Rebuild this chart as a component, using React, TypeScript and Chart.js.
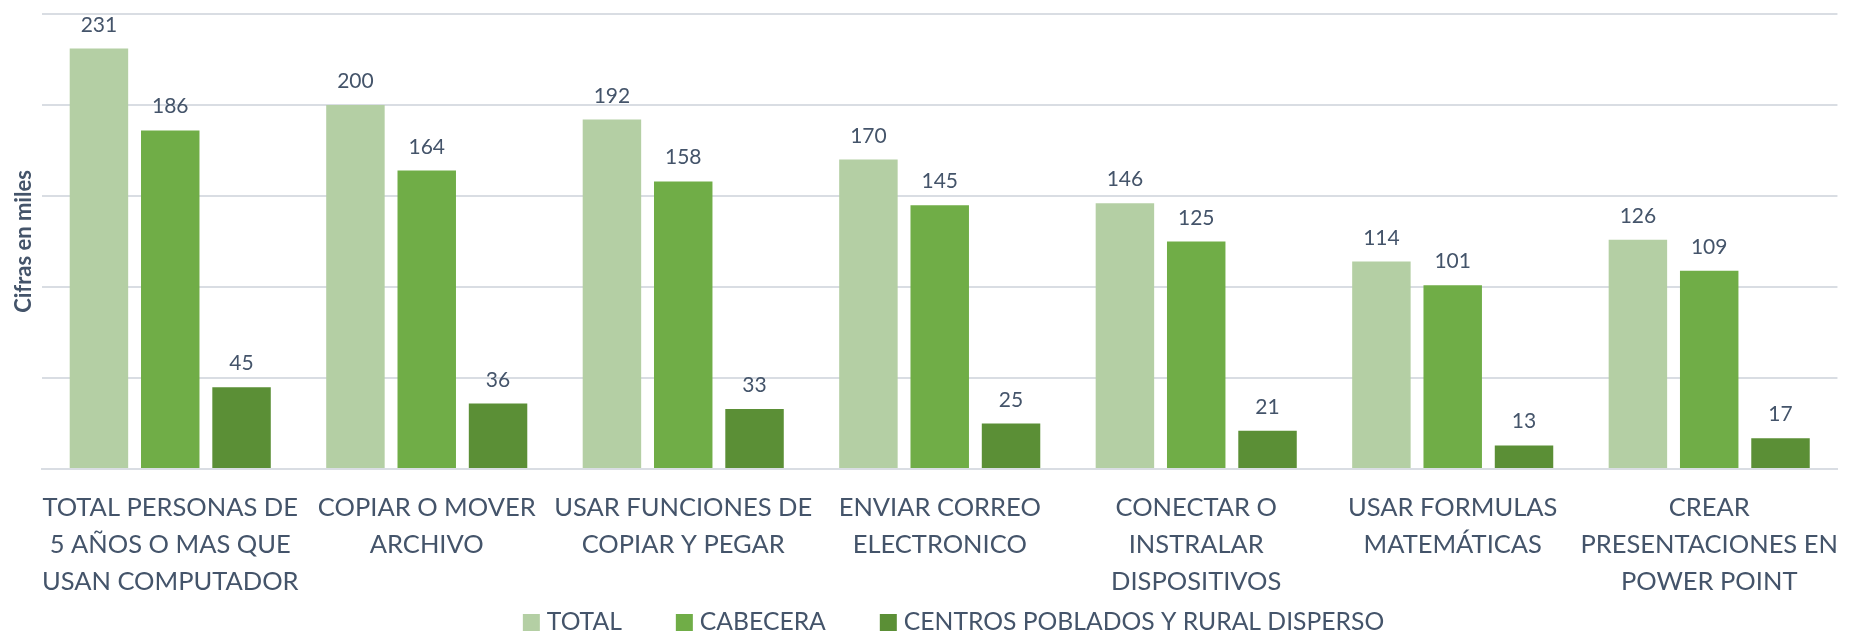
import React, { useEffect, useRef } from "react";
import { Chart, registerables } from "chart.js";
Chart.register(...registerables);

const categories: string[][] = [
  ["TOTAL PERSONAS DE", "5 AÑOS O MAS QUE", "USAN COMPUTADOR"],
  ["COPIAR O MOVER", "ARCHIVO"],
  ["USAR FUNCIONES DE", "COPIAR Y PEGAR"],
  ["ENVIAR CORREO", "ELECTRONICO"],
  ["CONECTAR O", "INSTRALAR", "DISPOSITIVOS"],
  ["USAR FORMULAS", "MATEMÁTICAS"],
  ["CREAR", "PRESENTACIONES EN", "POWER POINT"],
];
const seriesNames = ["TOTAL", "CABECERA", "CENTROS POBLADOS Y RURAL DISPERSO"];
const totalValues = [231, 200, 192, 170, 146, 114, 126];
const cabeceraValues = [186, 164, 158, 145, 125, 101, 109];
const ruralValues = [45, 36, 33, 25, 21, 13, 17];
const seriesColors = ["#B4CFA4", "#70AD47", "#5B8F36"];
const yAxisTitle = "Cifras en miles";
const yMin = 0;
const yMax = 250;
const yStep = 50;

const TEXT = "#44546A";
const GRID = "#D9DDE3";
const FONT = "Lato, 'Open Sans', sans-serif";

const dataLabelPlugin = {
  id: "dataLabels",
  afterDatasetsDraw(chart: any) {
    const ctx = chart.ctx;
    ctx.save();
    ctx.font = `21px ${FONT}`;
    ctx.fillStyle = TEXT;
    ctx.textAlign = "center";
    ctx.textBaseline = "alphabetic";
    chart.data.datasets.forEach((ds: any, i: number) => {
      const meta = chart.getDatasetMeta(i);
      meta.data.forEach((el: any, j: number) => {
        ctx.fillText(String(ds.data[j]), el.x, el.y - 17);
      });
    });
    ctx.restore();
  },
};

const yTitlePlugin = {
  id: "yTitle",
  afterDraw(chart: any) {
    const ctx = chart.ctx;
    const a = chart.chartArea;
    ctx.save();
    ctx.translate(24, (a.top + a.bottom) / 2);
    ctx.rotate(-Math.PI / 2);
    ctx.font = `bold 22px ${FONT}`;
    ctx.fillStyle = TEXT;
    ctx.textAlign = "center";
    ctx.textBaseline = "middle";
    ctx.fillText(yAxisTitle, 0, 0);
    ctx.restore();
  },
};

const legendPlugin = {
  id: "customLegend",
  afterDraw(chart: any) {
    const ctx = chart.ctx;
    ctx.save();
    ctx.font = `24.7px ${FONT}`;
    const box = 17;
    const gapText = 7;
    const gapItem = 54;
    const items = chart.data.datasets.map((ds: any) => ({
      label: ds.label,
      color: ds.backgroundColor,
      w: ctx.measureText(ds.label).width,
    }));
    let total = 0;
    items.forEach((it: any, i: number) => {
      total += box + gapText + it.w + (i < items.length - 1 ? gapItem : 0);
    });
    let x = 953.5 - total / 2;
    const boxTop = 614;
    const baseline = 630;
    items.forEach((it: any) => {
      ctx.fillStyle = it.color;
      ctx.fillRect(x, boxTop, box, box);
      ctx.fillStyle = TEXT;
      ctx.textAlign = "left";
      ctx.textBaseline = "alphabetic";
      ctx.fillText(it.label, x + box + gapText, baseline);
      x += box + gapText + it.w + gapItem;
    });
    ctx.restore();
  },
};

export default function App() {
  const ref = useRef<HTMLCanvasElement | null>(null);
  useEffect(() => {
    if (!ref.current) return;
    const values = [totalValues, cabeceraValues, ruralValues];
    const chart = new Chart(ref.current, {
      type: "bar",
      data: {
        labels: categories,
        datasets: seriesNames.map((name, i) => ({
          label: name,
          data: values[i],
          backgroundColor: seriesColors[i],
          borderWidth: 0,
          categoryPercentage: 0.834,
          barPercentage: 0.82,
        })),
      },
      options: {
        animation: false,
        responsive: false,
        devicePixelRatio: 1,
        layout: { padding: { left: 42, right: 1, top: 14, bottom: 13 } },
        plugins: {
          legend: { display: false },
          tooltip: { enabled: false },
        },
        scales: {
          x: {
            grid: { display: false, drawTicks: false },
            border: { display: true, color: GRID, width: 2 },
            ticks: {
              color: TEXT,
              font: { family: FONT, size: 25.5, lineHeight: 1.45 },
              padding: 20,
              maxRotation: 0,
              autoSkip: false,
            },
          },
          y: {
            min: yMin,
            max: yMax,
            ticks: { display: false, stepSize: yStep },
            grid: { color: GRID, lineWidth: 2, drawTicks: false },
            border: { display: false },
          },
        },
      },
      plugins: [dataLabelPlugin, yTitlePlugin, legendPlugin],
    });
    return () => chart.destroy();
  }, []);
  return (
    <div style={{ position: "absolute", left: 0, top: 0, width: 1858, height: 633, background: "#fff" }}>
      <canvas ref={ref} width={1858} height={633} style={{ display: "block" }} />
    </div>
  );
}
